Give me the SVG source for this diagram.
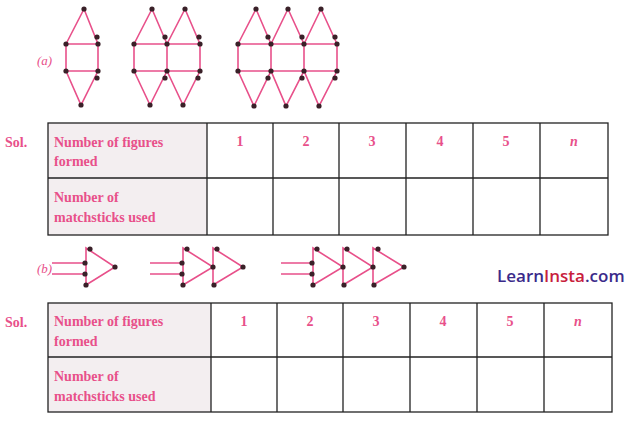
<svg xmlns="http://www.w3.org/2000/svg" width="628" height="422" viewBox="0 0 628 422">
<style>
.m{stroke:#e8508a;stroke-width:1.6;fill:none}
.d{fill:#3a2028}
.t{font-family:"Liberation Serif",serif;font-weight:bold;font-size:14px;fill:#e8508a}
.g{stroke:#222;stroke-width:1.3;fill:none}
.l{font-family:"Liberation Serif",serif;font-style:italic;font-size:13px;fill:#e8508a}
</style>
<rect width="628" height="422" fill="#fff"/>
<g id="fig-a">
<text class="l" x="37" y="65">(a)</text>
<g class="m">
<path d="M84,9 L66,44 M84,9 L98,44 M66,44 H98 V71 H66 Z M66,71 L81,105 L98,71"/>
<path d="M152,9 L134,44 M152,9 L167,44 M185,9 L167,44 M185,9 L200,44 M134,44 H200 V71 H134 Z M167,44 V71 M134,71 L150,105 L167,71 L183,105 L200,71"/>
<path d="M256,9 L238,44 M256,9 L271,44 M288,9 L271,44 M288,9 L304,44 M321,9 L304,44 M321,9 L337,44 M238,44 H337 V71 H238 Z M271,44 V71 M304,44 V71 M238,71 L254,106 L271,71 L286,106 L304,71 L319,106 L337,71"/>
</g>
<g class="d">
<circle cx="84" cy="9" r="2.6"/><circle cx="97" cy="37" r="2.6"/><circle cx="66" cy="44" r="2.6"/><circle cx="98" cy="44" r="2.6"/><circle cx="66" cy="71" r="2.6"/><circle cx="98" cy="71" r="2.6"/><circle cx="97" cy="78" r="2.6"/><circle cx="81" cy="105" r="2.6"/>
<circle cx="152" cy="9" r="2.6"/><circle cx="185" cy="9" r="2.6"/><circle cx="165" cy="37" r="2.6"/><circle cx="199" cy="37" r="2.6"/><circle cx="134" cy="44" r="2.6"/><circle cx="167" cy="44" r="2.6"/><circle cx="200" cy="44" r="2.6"/><circle cx="134" cy="71" r="2.6"/><circle cx="167" cy="71" r="2.6"/><circle cx="200" cy="71" r="2.6"/><circle cx="165" cy="78" r="2.6"/><circle cx="198" cy="78" r="2.6"/><circle cx="150" cy="105" r="2.6"/><circle cx="183" cy="105" r="2.6"/>
<circle cx="256" cy="9" r="2.6"/><circle cx="288" cy="9" r="2.6"/><circle cx="321" cy="9" r="2.6"/><circle cx="268" cy="37" r="2.6"/><circle cx="302" cy="37" r="2.6"/><circle cx="335" cy="37" r="2.6"/><circle cx="238" cy="44" r="2.6"/><circle cx="271" cy="44" r="2.6"/><circle cx="304" cy="44" r="2.6"/><circle cx="337" cy="44" r="2.6"/><circle cx="238" cy="71" r="2.6"/><circle cx="271" cy="71" r="2.6"/><circle cx="304" cy="71" r="2.6"/><circle cx="337" cy="71" r="2.6"/><circle cx="268" cy="78" r="2.6"/><circle cx="302" cy="78" r="2.6"/><circle cx="335" cy="78" r="2.6"/><circle cx="254" cy="106" r="2.6"/><circle cx="286" cy="106" r="2.6"/><circle cx="319" cy="106" r="2.6"/>
</g>
</g>
<g id="table1">
<rect x="48" y="123" width="159" height="112" fill="#f3eef0"/>
<rect class="g" x="48" y="123" width="560" height="112"/>
<path class="g" d="M48,178 H608 M207,123 V235 M273,123 V235 M339,123 V235 M406,123 V235 M473,123 V235 M540,123 V235"/>
<text class="t" x="5" y="147">Sol.</text>
<text class="t" x="54" y="147">Number of figures</text>
<text class="t" x="54" y="166">formed</text>
<text class="t" x="54" y="202">Number of</text>
<text class="t" x="54" y="222">matchsticks used</text>
<g class="t" text-anchor="middle"><text x="240" y="146">1</text><text x="306" y="146">2</text><text x="372" y="146">3</text><text x="440" y="146">4</text><text x="506" y="146">5</text><text x="574" y="146" font-style="italic">n</text></g>
</g>
<g id="fig-b">
<text class="l" x="37" y="273">(b)</text>
<g class="m">
<path d="M52,263 H86 M52,274 H86 M86,248 V285 L115,267 Z"/>
<path d="M150,263 H183 M150,274 H183 M183,248 V285 L213,267 Z M213,248 V285 L243,267 Z"/>
<path d="M281,263 H313 M281,274 H313 M313,248 V285 L343,267 Z M343,248 V285 L373,267 Z M373,248 V285 L404,267 Z"/>
</g>
<g class="d">
<circle cx="90" cy="249" r="2.6"/><circle cx="85" cy="263" r="2.6"/><circle cx="85" cy="274" r="2.6"/><circle cx="86" cy="285" r="2.6"/><circle cx="115" cy="267" r="2.6"/>
<circle cx="187" cy="249" r="2.6"/><circle cx="182" cy="263" r="2.6"/><circle cx="182" cy="274" r="2.6"/><circle cx="183" cy="285" r="2.6"/><circle cx="213" cy="267" r="2.6"/><circle cx="217" cy="249" r="2.6"/><circle cx="214" cy="285" r="2.6"/><circle cx="243" cy="267" r="2.6"/>
<circle cx="317" cy="249" r="2.6"/><circle cx="312" cy="263" r="2.6"/><circle cx="312" cy="274" r="2.6"/><circle cx="313" cy="285" r="2.6"/><circle cx="343" cy="267" r="2.6"/><circle cx="347" cy="249" r="2.6"/><circle cx="344" cy="285" r="2.6"/><circle cx="373" cy="267" r="2.6"/><circle cx="378" cy="249" r="2.6"/><circle cx="374" cy="285" r="2.6"/><circle cx="404" cy="267" r="2.6"/>
</g>
<text x="497" y="282" font-family="'Open Sans',sans-serif" font-weight="600" font-size="17"><tspan fill="#3a2a8a">Learn</tspan><tspan fill="#c8203c">Insta</tspan><tspan fill="#3a2a8a">.com</tspan></text>
</g>
<g id="table2">
<rect x="48" y="303" width="163" height="109" fill="#f3eef0"/>
<rect class="g" x="48" y="303" width="564" height="109"/>
<path class="g" d="M48,357 H612 M211,303 V412 M277,303 V412 M343,303 V412 M410,303 V412 M477,303 V412 M544,303 V412"/>
<text class="t" x="5" y="327">Sol.</text>
<text class="t" x="54" y="326">Number of figures</text>
<text class="t" x="54" y="346">formed</text>
<text class="t" x="54" y="381">Number of</text>
<text class="t" x="54" y="401">matchsticks used</text>
<g class="t" text-anchor="middle"><text x="244" y="326">1</text><text x="310" y="326">2</text><text x="376" y="326">3</text><text x="443" y="326">4</text><text x="510" y="326">5</text><text x="578" y="326" font-style="italic">n</text></g>
</g>
</svg>
